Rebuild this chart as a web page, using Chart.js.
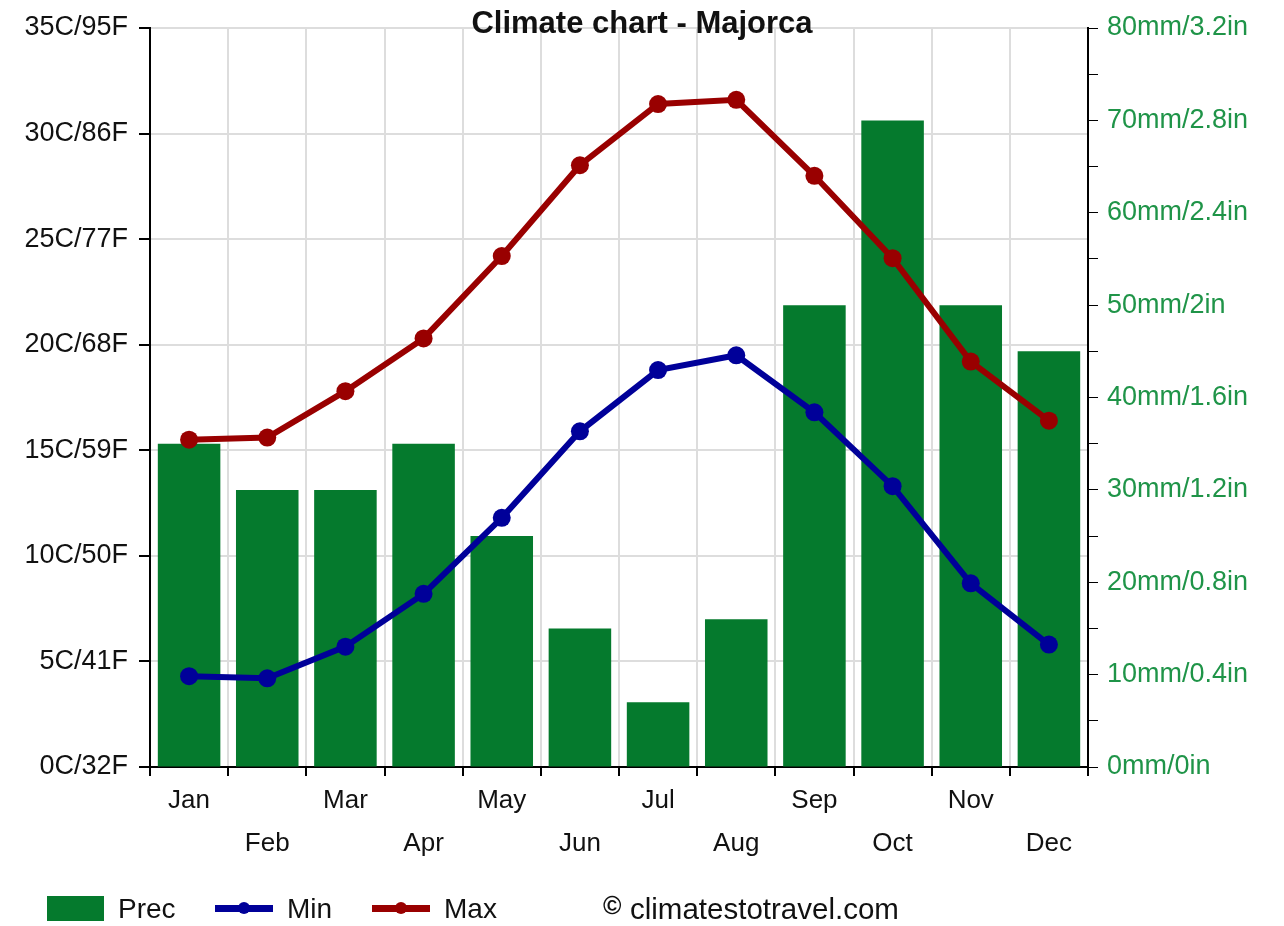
<!DOCTYPE html>
<html>
<head>
<meta charset="utf-8">
<script src="https://cdn.jsdelivr.net/npm/chart.js@4.4.1/dist/chart.umd.min.js"></script>
<style>
  html, body { margin: 0; padding: 0; background: #fff; }
  #wrap { position: relative; width: 1284px; height: 926px; font-family: "Liberation Sans", Arial, sans-serif; color: #111; }
  #wrap canvas { position: absolute; left: 0; top: 0; }
  .abs { position: absolute; white-space: nowrap; }
  #title { left: 0; width: 1284px; text-align: center; top: 3px; font-weight: bold; font-size: 31px; line-height: 40px; }
  .lgtext { font-size: 28px; line-height: 34px; top: 892px; }
  .lgline { height: 7px; top: 905px; width: 58px; }
  .lgdot { width: 12px; height: 12px; border-radius: 50%; top: 902px; }
</style>
</head>
<body>
<div id="wrap">
  <canvas id="c" width="1284" height="926"></canvas>
  <div id="title" class="abs">Climate chart - Majorca</div>
  <div class="abs" style="left:47px;top:896px;width:57px;height:25px;background:#057a2d;"></div>
  <div class="abs lgtext" style="left:118px;">Prec</div>
  <div class="abs lgline" style="left:215px;background:#000099;"></div>
  <div class="abs lgdot" style="left:238px;background:#000099;"></div>
  <div class="abs lgtext" style="left:287px;">Min</div>
  <div class="abs lgline" style="left:372px;background:#990000;"></div>
  <div class="abs lgdot" style="left:395px;background:#990000;"></div>
  <div class="abs lgtext" style="left:444px;">Max</div>
  <div class="abs" style="left:603px;top:891px;font-size:25px;line-height:28px;font-weight:bold;">©</div>
  <div class="abs lgtext" style="left:630px;font-size:29.5px;">climatestotravel.com</div>
</div>
<script>
const months = ['Jan','Feb','Mar','Apr','May','Jun','Jul','Aug','Sep','Oct','Nov','Dec'];
const precMm = [35, 30, 30, 35, 25, 15, 7, 16, 50, 70, 50, 45];
const minC = [4.3, 4.2, 5.7, 8.2, 11.8, 15.9, 18.8, 19.5, 16.8, 13.3, 8.7, 5.8];
const maxC = [15.5, 15.6, 17.8, 20.3, 24.2, 28.5, 31.4, 31.6, 28.0, 24.1, 19.2, 16.4];
const tempTicks = ['0C/32F','5C/41F','10C/50F','15C/59F','20C/68F','25C/77F','30C/86F','35C/95F'];
const precTicks = ['0mm/0in','10mm/0.4in','20mm/0.8in','30mm/1.2in','40mm/1.6in','50mm/2in','60mm/2.4in','70mm/2.8in','80mm/3.2in'];

const FONT = '"Liberation Sans", Arial, sans-serif';
const GREEN = '#057a2d';
const BLUE = '#000099';
const RED = '#990000';

new Chart(document.getElementById('c'), {
  data: {
    labels: months,
    datasets: [
      { type: 'line', label: 'Max', data: maxC, yAxisID: 'yT', borderColor: RED, backgroundColor: RED,
        borderWidth: 6, pointRadius: 9, pointBorderWidth: 0, pointBackgroundColor: RED, tension: 0, order: 1 },
      { type: 'line', label: 'Min', data: minC, yAxisID: 'yT', borderColor: BLUE, backgroundColor: BLUE,
        borderWidth: 6, pointRadius: 9, pointBorderWidth: 0, pointBackgroundColor: BLUE, tension: 0, order: 2 },
      { type: 'bar', label: 'Prec', data: precMm, yAxisID: 'yP', backgroundColor: GREEN, borderWidth: 0,
        barPercentage: 0.8, categoryPercentage: 1.0, order: 3 }
    ]
  },
  options: {
    responsive: false,
    animation: false,
    events: [],
    layout: { padding: { top: 28, bottom: 59, left: 0, right: 0 } },
    plugins: { legend: { display: false }, title: { display: false }, tooltip: { enabled: false } },
    scales: {
      x: {
        type: 'category',
        offset: true,
        grid: { offset: true, color: '#dddddd', lineWidth: 2, tickColor: '#000', tickLength: 9 },
        border: { color: '#000', width: 2 },
        ticks: {
          autoSkip: false, maxRotation: 0, minRotation: 0, padding: 3,
          color: '#111', font: { family: FONT, size: 26, lineHeight: 1.65 },
          callback: (v, i) => (i % 2 === 0 ? months[i] : ['', months[i]])
        },
        afterFit: s => { s.height = 100; }
      },
      yT: {
        type: 'linear', position: 'left', min: 0, max: 35,
        grid: { color: '#dddddd', lineWidth: 2, tickColor: '#000', tickLength: 11 },
        border: { color: '#000', width: 2 },
        ticks: { stepSize: 5, padding: 11, color: '#111', font: { family: FONT, size: 27 },
          callback: (v) => tempTicks[Math.round(v / 5)] },
        afterFit: s => { s.width = 150; }
      },
      yP: {
        type: 'linear', position: 'right', min: 0, max: 80,
        grid: { drawOnChartArea: false, tickColor: '#000', tickLength: 10 },
        border: { color: '#000', width: 2 },
        ticks: { stepSize: 5, autoSkip: false, padding: 9, color: '#1f9448', font: { family: FONT, size: 27 },
          callback: (v) => (v % 10 === 0 ? precTicks[v / 10] : '') },
        afterFit: s => { s.width = 196; }
      }
    }
  }
});
</script>
</body>
</html>
